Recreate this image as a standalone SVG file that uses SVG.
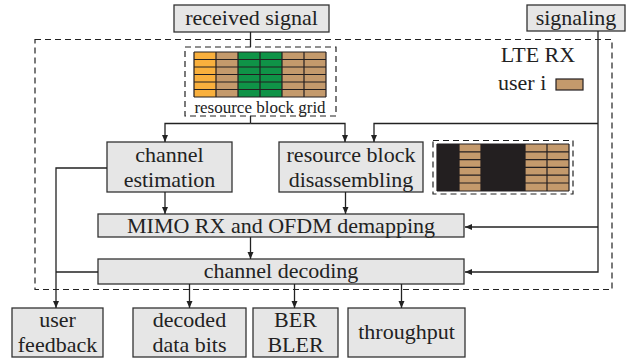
<svg xmlns="http://www.w3.org/2000/svg" width="634" height="360" viewBox="0 0 634 360">
<style>
.box{fill:#e6e6e6;stroke:#333;stroke-width:1.3}
.dash{fill:none;stroke:#222;stroke-width:1.2;stroke-dasharray:6 4}
text{font-family:"Liberation Serif","Times New Roman",serif;fill:#222;text-anchor:middle}
.t{font-size:22px}
.s{font-size:17px}
.c{fill:none;stroke:#222;stroke-width:1.3}
.g{fill:none;stroke:#231f20;stroke-width:1.2}
</style>
<defs>
<marker id="ah" markerWidth="8" markerHeight="8" refX="7" refY="4" orient="auto" markerUnits="userSpaceOnUse">
<path d="M0,1 L7,4 L0,7 Z" fill="#222"/>
</marker>
</defs>
<rect class="dash" x="35" y="39.5" width="577" height="250"/>
<g id="lte-rx-label">
<text class="t" x="538" y="62">LTE RX</text>
<text class="t" x="523" y="90" style="text-anchor:start" transform="translate(-25,0)">user i</text>
<rect x="556" y="79" width="27" height="11" fill="#c49a6c" stroke="#231f20" stroke-width="1.2"/>
</g>
<g id="received-signal">
<rect class="box" x="174" y="5" width="155" height="27"/>
<text class="t" x="251.5" y="25">received signal</text>
</g>
<g id="signaling">
<rect class="box" x="527" y="5" width="98" height="26"/>
<text class="t" x="576" y="25">signaling</text>
</g>
<g id="resource-block-grid">
<rect class="dash" x="185" y="47" width="151" height="69"/>
<rect x="194" y="52" width="22" height="45" fill="#f9b03d"/>
<rect x="216" y="52" width="22" height="45" fill="#c49a6c"/>
<rect x="238" y="52" width="44" height="45" fill="#0f9347"/>
<rect x="282" y="52" width="44" height="45" fill="#c49a6c"/>
<path class="g" d="M194,52H326M194,59.5H326M194,67H326M194,74.5H326M194,82H326M194,89.5H326M194,97H326M194,52V97M216,52V97M238,52V97M260,52V97M282,52V97M304,52V97M326,52V97"/>
<text class="s" x="260" y="113">resource block grid</text>
</g>
<g id="user-grid">
<rect class="dash" x="433" y="140.5" width="140" height="53.5"/>
<rect x="437" y="144" width="132" height="47" fill="#231f20"/>
<rect x="459" y="144" width="22" height="47" fill="#c49a6c"/>
<rect x="525" y="144" width="44" height="47" fill="#c49a6c"/>
<path class="g" d="M437,144H569M459,151.8H481M459,159.6H481M459,167.4H481M459,175.2H481M459,183H481M525,151.8H569M525,159.6H569M525,167.4H569M525,175.2H569M525,183H569M437,191H569M437,144V191M459,144V191M481,144V191M525,144V191M547,144V191M569,144V191"/>
</g>
<g id="channel-estimation">
<rect class="box" x="107" y="142" width="125" height="50"/>
<text class="t" x="169.5" y="162">channel</text>
<text class="t" x="169.5" y="187">estimation</text>
</g>
<g id="resource-block-disassembling">
<rect class="box" x="279" y="142" width="144" height="50"/>
<text class="t" x="351" y="162">resource block</text>
<text class="t" x="351" y="187">disassembling</text>
</g>
<g id="mimo-rx">
<rect class="box" x="98" y="214" width="366" height="23"/>
<text class="t" x="281" y="233">MIMO RX and OFDM demapping</text>
</g>
<g id="channel-decoding">
<rect class="box" x="98" y="259" width="366" height="25"/>
<text class="t" x="281" y="278">channel decoding</text>
</g>
<g id="user-feedback">
<rect class="box" x="12" y="308" width="91" height="49"/>
<text class="t" x="57.5" y="327">user</text>
<text class="t" x="57.5" y="352">feedback</text>
</g>
<g id="decoded-data-bits">
<rect class="box" x="133" y="308" width="113" height="49"/>
<text class="t" x="189.5" y="327">decoded</text>
<text class="t" x="189.5" y="352">data bits</text>
</g>
<g id="ber-bler">
<rect class="box" x="253" y="308" width="85" height="49"/>
<text class="t" x="295.5" y="327">BER</text>
<text class="t" x="295.5" y="352">BLER</text>
</g>
<g id="throughput">
<rect class="box" x="348" y="308" width="117" height="49"/>
<text class="t" x="406.5" y="339">throughput</text>
</g>
<g id="connectors">
<path class="c" d="M250.5,32V47"/>
<path class="c" d="M250.5,116V123.5"/>
<path class="c" d="M250.5,123.5H165V142" marker-end="url(#ah)"/>
<path class="c" d="M250.5,123.5H345V142" marker-end="url(#ah)"/>
<path class="c" d="M598,31V272H465" marker-end="url(#ah)"/>
<path class="c" d="M598,123.5H374V142" marker-end="url(#ah)"/>
<path class="c" d="M598,227H465" marker-end="url(#ah)"/>
<path class="c" d="M165,192V214" marker-end="url(#ah)"/>
<path class="c" d="M345.5,192V214" marker-end="url(#ah)"/>
<path class="c" d="M250.5,237V259" marker-end="url(#ah)"/>
<path class="c" d="M107,168H56V308" marker-end="url(#ah)"/>
<path class="c" d="M98,272H56"/>
<path class="c" d="M189.5,284V308" marker-end="url(#ah)"/>
<path class="c" d="M294.5,284V308" marker-end="url(#ah)"/>
<path class="c" d="M401.5,284V308" marker-end="url(#ah)"/>
</g>
</svg>
